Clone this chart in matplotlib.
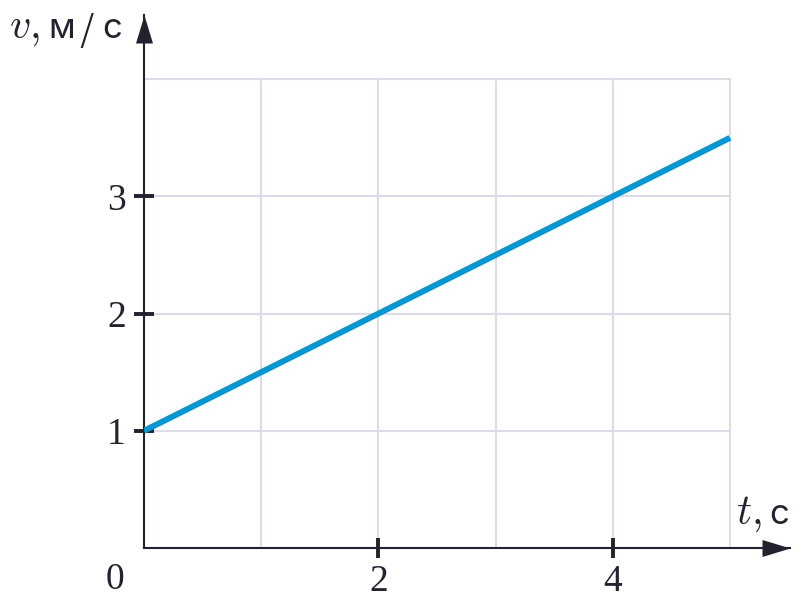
import matplotlib
matplotlib.use("Agg")
import matplotlib.pyplot as plt

plt.rcParams["mathtext.fontset"] = "cm"

# data
t_values = [0, 5]
v_values = [1, 3.5]
x_ticks = [2, 4]
y_ticks = [1, 2, 3]
x_grid = [1, 2, 3, 4, 5]
y_grid = [1, 2, 3, 4]
x_label_t = "$t,$"
y_label_v = "$v,$"
unit_x = "с"
unit_y = ["м", "/", "с"]

AX_COL = "#23222e"
GRID_COL = "#dcdce6"
LINE_COL = "#0a96d2"

W, H = 801, 600
fig = plt.figure(figsize=(W / 100, H / 100), dpi=100)
x0, y0 = 144, 548
unit = 117.2
xr, yt = 790, 15
ax = fig.add_axes([x0 / W, (H - y0) / H, (xr - x0) / W, (y0 - yt) / H])
ax.set_xlim(0, (xr - x0) / unit)
ax.set_ylim(0, (y0 - yt) / unit)

for s in ["top", "right"]:
    ax.spines[s].set_visible(False)
for s in ["left", "bottom"]:
    ax.spines[s].set_color(AX_COL)
    ax.spines[s].set_linewidth(1.5)
    ax.spines[s].set_zorder(3)

# grid
for gx in x_grid:
    ax.plot([gx, gx], [0, max(y_grid)], color=GRID_COL, lw=1.5, zorder=1)
for gy in y_grid:
    ax.plot([0, max(x_grid)], [gy, gy], color=GRID_COL, lw=1.5, zorder=1)

# line
ax.plot(t_values, v_values, color=LINE_COL, lw=4.3, solid_capstyle="butt", zorder=4)

# ticks
ax.set_xticks(x_ticks)
ax.set_yticks(y_ticks)
ax.tick_params(axis="both", direction="inout", length=14.4, width=2.8, color=AX_COL,
               labelcolor=AX_COL, labelsize=27)
ax.tick_params(axis="y", pad=6)
ax.tick_params(axis="x", pad=5)
for lab in ax.get_xticklabels() + ax.get_yticklabels():
    lab.set_family("Liberation Serif")

# arrows
up = [(-8.5, -28), (8.5, -28), (0, 0)]
right = [(-28, -8.5), (-28, 8.5), (0, 0)]
ax.plot(0, 1, marker=up, markersize=40.3, color=AX_COL, transform=ax.get_xaxis_transform(),
        clip_on=False, zorder=5, markeredgewidth=0)
ax.plot(1, 0, marker=right, markersize=40.3, color=AX_COL, transform=ax.get_yaxis_transform(),
        clip_on=False, zorder=5, markeredgewidth=0)

# origin label
fig.text(115 / W, 1 - 580 / H, "0", family="Liberation Serif", fontsize=27, color=AX_COL,
         ha="center", va="center")

# axis labels
fig.text(9 / W, 1 - 38 / H, y_label_v, fontsize=30, color=AX_COL, ha="left", va="baseline")
fig.text(61.5 / W, 1 - 38 / H, unit_y[0], family="Inter", fontsize=25, color=AX_COL,
         ha="center", va="baseline")
fig.text(87 / W, 1 - 31.5 / H, unit_y[1], family="DejaVu Sans", fontsize=31, color=AX_COL,
         ha="center", va="center", fontweight="light")
fig.text(112.5 / W, 1 - 38 / H, unit_y[2], family="Inter", fontsize=25, color=AX_COL,
         ha="center", va="baseline")
fig.text(736 / W, 1 - 524 / H, x_label_t, fontsize=30, color=AX_COL, ha="left", va="baseline")
fig.text(779 / W, 1 - 524 / H, unit_x, family="Inter", fontsize=25, color=AX_COL,
         ha="center", va="baseline")

fig.savefig("out.png", dpi=100)
